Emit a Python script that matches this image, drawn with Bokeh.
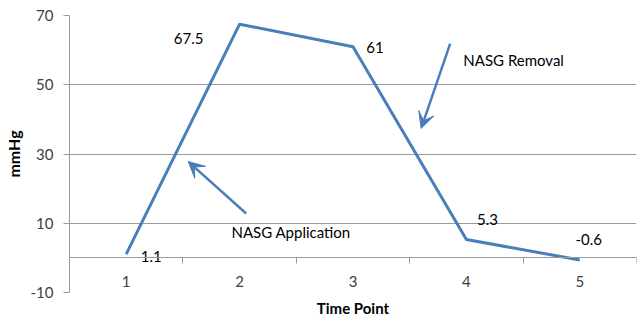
from bokeh.plotting import figure
from bokeh.models import (Range1d, FixedTicker, LinearAxis, ColumnDataSource,
                          Arrow, VeeHead, Label)
from bokeh.core.properties import value
from bokeh.embed import file_html
from bokeh.resources import INLINE

# ---- data ----
time_points = [1, 2, 3, 4, 5]
mmhg = [1.1, 67.5, 61, 5.3, -0.6]
value_labels = ["1.1", "67.5", "61", "5.3", "-0.6"]
y_ticks = [-10, 10, 30, 50, 70]
category_bounds = [1.5, 2.5, 3.5, 4.5, 5.5]

# label offsets (style)
lab_dx = [25, -51, 22, 21, 9]
lab_dy = [2, 14, 1, -20, -20]

BLUE = "#4A7EBB"
FONT = "Lato"
GRID = "#9a9a9a"
TXT = "#404040"

p = figure(frame_width=567, frame_height=277, output_backend="svg", toolbar_location=None,
           x_range=Range1d(0.5, 5.5), y_range=Range1d(-10, 70),
           min_border_left=61, min_border_right=3, min_border_top=15,
           min_border_bottom=10)
p.outline_line_color = None
p.background_fill_color = "white"

# y axis
p.yaxis.ticker = FixedTicker(ticks=y_ticks)
p.yaxis.major_label_overrides = {t: str(t) for t in y_ticks}
p.yaxis.axis_line_color = GRID
p.yaxis.major_tick_line_color = GRID
p.yaxis.major_tick_out = 6
p.yaxis.major_tick_in = 0
p.yaxis.minor_tick_line_color = None
p.yaxis.major_label_standoff = 10
p.yaxis.major_label_text_font = FONT
p.yaxis.major_label_text_font_size = "15px"
p.yaxis.major_label_text_color = TXT
p.yaxis.axis_label = "mmHg"
p.yaxis.axis_label_text_font = FONT
p.yaxis.axis_label_text_font_size = "16px"
p.yaxis.axis_label_text_font_style = "bold"
p.yaxis.axis_label_text_color = "black"
p.yaxis.axis_label_standoff = 5

p.ygrid.ticker = FixedTicker(ticks=y_ticks)
p.ygrid.grid_line_color = GRID
p.xgrid.grid_line_color = None

# main x axis: only the title
p.xaxis.axis_line_color = None
p.xaxis.major_tick_line_color = None
p.xaxis.minor_tick_line_color = None
p.xaxis.ticker = FixedTicker(ticks=[])
p.xaxis.axis_label = "Time Point"
p.xaxis.axis_label_text_font = FONT
p.xaxis.axis_label_text_font_size = "15px"
p.xaxis.axis_label_text_font_style = "bold"
p.xaxis.axis_label_text_color = "black"
p.xaxis.axis_label_standoff = 6

# category axis at y = 0: line, boundary ticks (minor) and centred labels (major)
cat_axis = LinearAxis(fixed_location=0,
                      ticker=FixedTicker(ticks=time_points, minor_ticks=category_bounds),
                      axis_line_color=GRID, major_tick_line_color=None,
                      minor_tick_line_color=GRID, minor_tick_out=6, minor_tick_in=0,
                      major_label_standoff=12, major_label_text_font=FONT,
                      major_label_text_font_size="15px", major_label_text_color=TXT)
p.add_layout(cat_axis, "below")

src = ColumnDataSource(dict(x=time_points, y=mmhg, t=value_labels, dx=lab_dx, dy=lab_dy))
p.line("x", "y", source=src, line_color=BLUE, line_width=3, line_join="round")
p.text("x", "y", text="t", source=src, x_offset="dx", y_offset="dy",
       text_align="center", text_baseline="middle", text_font=value(FONT),
       text_font_size="15px", text_color="black")

# annotations
p.add_layout(Arrow(x_start=2.058, y_start=12.8, x_end=1.547, y_end=27.8,
                   line_color=BLUE, line_width=2.5,
                   end=VeeHead(size=16, fill_color=BLUE, line_color=BLUE)))
p.add_layout(Arrow(x_start=3.857, y_start=61.9, x_end=3.601, y_end=37.4,
                   line_color=BLUE, line_width=2.5,
                   end=VeeHead(size=16, fill_color=BLUE, line_color=BLUE)))
p.add_layout(Label(x=1.928, y=7.5, text="NASG Application", text_font=FONT,
                   text_font_size="15px", text_baseline="middle", text_color="black"))
p.add_layout(Label(x=3.973, y=57.2, text="NASG Removal", text_font=FONT,
                   text_font_size="15px", text_baseline="middle", text_color="black"))

open("out.html", "w").write(file_html(p, INLINE))
